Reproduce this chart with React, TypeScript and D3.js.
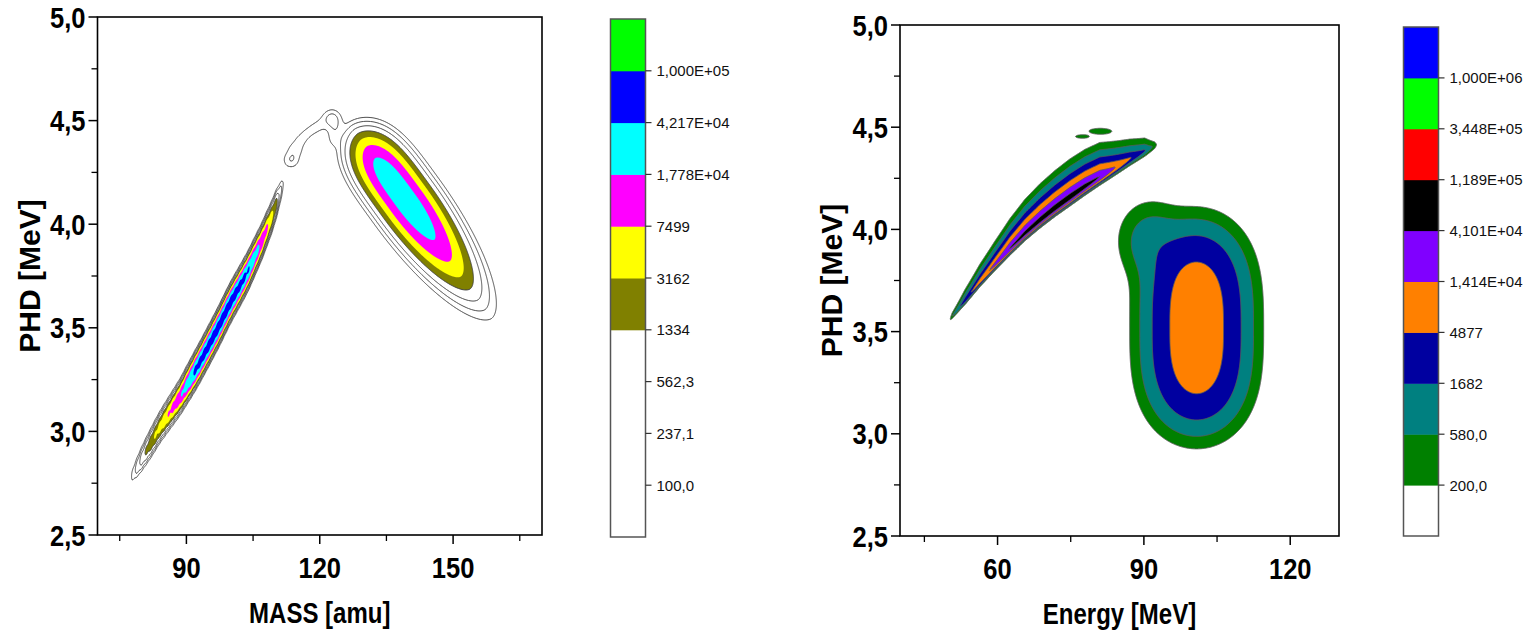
import React, { useMemo } from "react";
import * as d3 from "d3";

const W = 1526;
const H = 632;

// ---------------- Left panel: MASS vs PHD ----------------
const massLevels = [100, 237.1, 562.3, 1334, 3162, 7499, 17780, 42170, 100000];
const massBandColors = ["#ffffff", "#ffffff", "#ffffff", "#ffffff", "#808000", "#ffff00", "#ff00ff", "#00ffff", "#0000ff", "#00ff00"];
const massDomain = [70, 170];
const massMajorTicks = [90, 120, 150];
const massMinorTicks = [75, 105, 135, 165];
const phdDomain = [2.5, 5.0];
const phdMajorTicks = [2.5, 3.0, 3.5, 4.0, 4.5, 5.0];
const phdMinorTicks = [2.75, 3.25, 3.75, 4.25, 4.75];

// light fragment: one entry per integer mass bin
const lightMass = [78, 79, 80, 81, 82, 83, 84, 85, 86, 87, 88, 89, 90, 91, 92, 93, 94, 95, 96, 97, 98, 99, 100, 101, 102, 103, 104, 105, 106, 107, 108, 109, 110, 111, 112];
const lightPHD = [2.794, 2.831, 2.869, 2.907, 2.944, 2.982, 3.019, 3.052, 3.084, 3.116, 3.148, 3.182, 3.22, 3.257, 3.295, 3.333, 3.373, 3.413, 3.454, 3.495, 3.538, 3.582, 3.624, 3.663, 3.701, 3.74, 3.781, 3.827, 3.873, 3.92, 3.973, 4.025, 4.085, 4.146, 4.208];
const lightYield = [150, 400, 900, 1600, 2600, 3600, 4500, 6000, 8000, 10500, 14000, 19000, 28000, 40000, 54000, 60000, 64000, 67000, 69000, 71000, 72000, 71000, 69000, 66000, 61000, 55000, 46000, 34000, 24000, 16000, 10000, 5500, 2400, 400, 60];
const lightMassSpread = 0.38; // amu
const lightPHDSpread = 0.028; // MeV

// heavy fragment peak
const heavyPeak = { mass: 139.46, phd: 4.112, counts: 32000 };
const heavyTip = { mass: 131.39, phd: 4.35 };
const heavyTail = { mass: 147.67, phd: 3.87 };
const heavyHalfWidth = 0.072; // MeV
const heavyShape = { tip: 3.75, tail: 2.06, side: 1.8 };

// weak hook between the two groups
const hookMass = [113.56, 114.46, 115.58, 116.93, 118.51, 120.08, 121.66, 122.6, 123.2, 123.4, 123.4, 123.2];
const hookPHD = [4.31, 4.358, 4.402, 4.435, 4.459, 4.479, 4.503, 4.522, 4.512, 4.479, 4.44, 4.402];
const hookCounts = [230, 170, 110, 90, 90, 90, 95, 110, 140, 150, 110, 80];
const hookSpread = 0.025; // MeV

// ---------------- Right panel: Energy vs PHD ----------------
const energyLevels = [200, 580, 1682, 4877, 14140, 41010, 118900, 344800, 1000000];
const energyBandColors = ["#ffffff", "#008000", "#008080", "#0000a0", "#ff8000", "#8000ff", "#000000", "#ff0000", "#00ff00", "#0000ff"];
const energyDomain = [40, 130];
const energyMajorTicks = [60, 90, 120];
const energyMinorTicks = [45, 75, 105];

const streakEnergy = [49.9, 50.65, 53.31, 56.38, 59.46, 62.53, 65.6, 68.67, 71.74, 74.81, 77.89, 80.96, 84.03, 87.1, 90.17, 92.22, 93.6];
const streakPHD = [3.545, 3.576, 3.655, 3.748, 3.831, 3.909, 3.982, 4.046, 4.105, 4.159, 4.212, 4.261, 4.305, 4.349, 4.388, 4.413, 4.43];
const streakPeak = [60, 600, 3500, 9000, 20000, 45000, 65000, 75000, 80000, 78000, 65000, 42000, 15000, 5500, 1900, 400, 30];
const streakUp = [0.0117, 0.0127, 0.0157, 0.0186, 0.0205, 0.022, 0.0235, 0.0245, 0.025, 0.0255, 0.0255, 0.0255, 0.025, 0.0245, 0.024, 0.023, 0.023];
const streakDown = [0.0117, 0.0127, 0.0137, 0.0147, 0.0152, 0.0152, 0.0157, 0.0166, 0.0176, 0.0186, 0.0191, 0.0196, 0.0201, 0.0205, 0.0205, 0.0205, 0.0205];

const energyBlobs = [
  { energy: 100.82, phd: 3.518, sE: 7.04, sP: 0.379, pE: 2, pP: 3, counts: 9000 },
  { energy: 91.2, phd: 3.948, sE: 5.12, sP: 0.147, pE: 2, pP: 2, counts: 900 },
];

const islandEnergy = [77.27, 80.96];
const islandPHD = [4.4545, 4.481];
const islandCounts = [350, 350];
const islandSE = [1.16, 1.93];
const islandSP = [0.0069, 0.0115];

// ---------------- layout ----------------
const LEFT = { x0: 97.5, x1: 542, y0: 17, y1: 535 };
const RIGHT = { x0: 900, x1: 1339, y0: 25, y1: 536 };
const LEFT_BAR = { x: 610.5, y: 19, w: 35, h: 518 };
const RIGHT_BAR = { x: 1403.5, y: 27, w: 35, h: 509 };
const FONT = "'Liberation Sans', Arial, Helvetica, sans-serif";

function fmtLevel(v: number) {
  if (v >= 10000) {
    const e = Math.floor(Math.log10(v) + 1e-9);
    const m = v / Math.pow(10, e);
    return `${m.toFixed(3).replace(".", ",")}E+${String(e).padStart(2, "0")}`;
  }
  if (v >= 1000) return String(Math.round(v));
  return v.toFixed(1).replace(".", ",");
}

function grid(nx: number, ny: number, fn: (px: number, py: number) => number) {
  const values = new Float64Array(nx * ny);
  for (let j = 0; j < ny; j++) {
    for (let i = 0; i < nx; i++) {
      values[j * nx + i] = fn(i + 0.5, j + 0.5);
    }
  }
  return values;
}

function buildLeft() {
  const xs = d3.scaleLinear().domain(massDomain).range([LEFT.x0, LEFT.x1]);
  const ys = d3.scaleLinear().domain(phdDomain).range([LEFT.y1, LEFT.y0]);
  const nx = Math.round(LEFT.x1 - LEFT.x0);
  const ny = Math.round(LEFT.y1 - LEFT.y0);
  const pxPerMeV = ys(0) - ys(1);

  const cx = xs(heavyPeak.mass), cy = ys(heavyPeak.phd);
  const tx = xs(heavyTip.mass), ty = ys(heavyTip.phd);
  const lx = xs(heavyTail.mass), ly = ys(heavyTail.phd);
  const aMinus = Math.hypot(tx - cx, ty - cy);
  const aPlus = Math.hypot(lx - cx, ly - cy);
  const ul = Math.hypot(lx - tx, ly - ty);
  const ux = (lx - tx) / ul, uy = (ly - ty) / ul;
  const aSide = heavyHalfWidth * pxPerMeV;

  const hookPts = hookMass.map((m, i) => [xs(m), ys(hookPHD[i]), hookCounts[i]]);
  const hs = hookSpread * pxPerMeV;

  const n = lightMass.length;
  const slopes = lightPHD.map((_, i) => {
    const a = Math.max(0, i - 1), b = Math.min(n - 1, i + 1);
    return (lightPHD[b] - lightPHD[a]) / (lightMass[b] - lightMass[a]);
  });

  const fn = (gx: number, gy: number) => {
    const px = LEFT.x0 + gx, py = LEFT.y0 + gy;
    let v = 0;
    const dx = px - cx, dy = py - cy;
    const a = dx * ux + dy * uy;
    const b = -dx * uy + dy * ux;
    const ta = a < 0 ? Math.pow(-a / aMinus, heavyShape.tip) : Math.pow(a / aPlus, heavyShape.tail);
    const tb = Math.pow(Math.abs(b) / aSide, heavyShape.side);
    const e = ta + tb;
    if (e < 30) v += heavyPeak.counts * Math.exp(-e);
    for (const [hx, hy, hc] of hookPts) {
      const r2 = (px - hx) * (px - hx) + (py - hy) * (py - hy);
      if (r2 < 900) v += hc * Math.exp(-r2 / (2 * hs * hs));
    }
    const m = xs.invert(px), p = ys.invert(py);
    for (let i = 0; i < n; i++) {
      const dm = m - lightMass[i];
      if (dm > 2.5 || dm < -2.5) continue;
      const dp = p - (lightPHD[i] + slopes[i] * dm);
      if (dp > 0.3 || dp < -0.3) continue;
      v += lightYield[i] * Math.exp(-0.5 * (dm / lightMassSpread) ** 2 - 0.5 * (dp / lightPHDSpread) ** 2);
    }
    return v;
  };

  const values = grid(nx, ny, fn);
  const contours = d3.contours().size([nx, ny]).thresholds(massLevels)(values as any);
  return { xs, ys, contours };
}

function buildRight() {
  const xs = d3.scaleLinear().domain(energyDomain).range([RIGHT.x0, RIGHT.x1]);
  const ys = d3.scaleLinear().domain(phdDomain).range([RIGHT.y1, RIGHT.y0]);
  const nx = Math.round(RIGHT.x1 - RIGHT.x0);
  const ny = Math.round(RIGHT.y1 - RIGHT.y0);
  const n = streakEnergy.length;
  const logPeak = streakPeak.map((v) => Math.log(v));

  const fn = (gx: number, gy: number) => {
    const E = xs.invert(RIGHT.x0 + gx);
    const p = ys.invert(RIGHT.y0 + gy);
    let v = 0;
    for (const bl of energyBlobs) {
      const e = Math.pow(Math.abs(E - bl.energy) / bl.sE, bl.pE) + Math.pow(Math.abs(p - bl.phd) / bl.sP, bl.pP);
      if (e < 30) v += bl.counts * Math.exp(-e);
    }
    if (E > streakEnergy[0] && E < streakEnergy[n - 1]) {
      let k = 0;
      while (k < n - 2 && E > streakEnergy[k + 1]) k++;
      const t = (E - streakEnergy[k]) / (streakEnergy[k + 1] - streakEnergy[k]);
      const lerp = (arr: number[]) => arr[k] + t * (arr[k + 1] - arr[k]);
      const rp = lerp(streakPHD);
      const A = Math.exp(lerp(logPeak));
      const d = p - rp;
      const e = d > 0 ? Math.pow(d / lerp(streakUp), 0.9) : Math.pow(-d / lerp(streakDown), 2);
      if (e < 30) v += A * Math.exp(-e);
    }
    for (let i = 0; i < islandEnergy.length; i++) {
      const e = 0.5 * ((E - islandEnergy[i]) / islandSE[i]) ** 2 + 0.5 * ((p - islandPHD[i]) / islandSP[i]) ** 2;
      if (e < 30) v += islandCounts[i] * Math.exp(-e);
    }
    return v;
  };

  const values = grid(nx, ny, fn);
  const contours = d3.contours().size([nx, ny]).thresholds(energyLevels)(values as any);
  return { xs, ys, contours };
}

const geo = d3.geoPath();

function BoldText({ x, y, text, size, anchor, sx, rotate }: any) {
  const rot = rotate ? ` rotate(${rotate})` : "";
  return (
    <text
      transform={`translate(${x},${y})${rot} scale(${sx},1)`}
      textAnchor={anchor}
      fontSize={size}
      fontWeight="bold"
      fontFamily={FONT}
      fill="#000"
    >
      {text}
    </text>
  );
}

function Panel({ rect, data, colors, lineLevels, lineColor, majorX, minorX, xTitle }: any) {
  const { xs, ys, contours } = data;
  const tickFont = 29;
  const tickSX = 0.88;
  return (
    <g>
      <g transform={`translate(${rect.x0},${rect.y0})`}>
        {contours.map((c: any, k: number) => (
          <path key={`f${k}`} d={geo(c) || ""} fill={colors[k + 1]} stroke="none" />
        ))}
        {contours.map((c: any, k: number) =>
          lineLevels.includes(k) ? (
            <path key={`l${k}`} d={geo(c) || ""} fill="none" stroke={lineColor} strokeWidth={0.9} strokeLinejoin="round" />
          ) : null
        )}
      </g>
      <rect x={rect.x0} y={rect.y0} width={rect.x1 - rect.x0} height={rect.y1 - rect.y0} fill="none" stroke="#000" strokeWidth={1.6} />
      {majorX.map((t: number) => (
        <line key={`mx${t}`} x1={xs(t)} x2={xs(t)} y1={rect.y1} y2={rect.y1 + 9} stroke="#000" strokeWidth={1.5} />
      ))}
      {minorX.map((t: number) => (
        <line key={`nx${t}`} x1={xs(t)} x2={xs(t)} y1={rect.y1} y2={rect.y1 + 6} stroke="#000" strokeWidth={1.3} />
      ))}
      {phdMajorTicks.map((t: number) => (
        <line key={`my${t}`} x1={rect.x0 - 9} x2={rect.x0} y1={ys(t)} y2={ys(t)} stroke="#000" strokeWidth={1.5} />
      ))}
      {phdMinorTicks.map((t: number) => (
        <line key={`ny${t}`} x1={rect.x0 - 6} x2={rect.x0} y1={ys(t)} y2={ys(t)} stroke="#000" strokeWidth={1.3} />
      ))}
      {majorX.map((t: number) => (
        <BoldText key={`lx${t}`} x={xs(t)} y={rect.y1 + 43} text={String(t)} size={tickFont} anchor="middle" sx={tickSX} />
      ))}
      {phdMajorTicks.map((t: number) => (
        <BoldText key={`ly${t}`} x={rect.x0 - 12} y={ys(t) + 10.5} text={t.toFixed(1).replace(".", ",")} size={tickFont} anchor="end" sx={tickSX} />
      ))}
      <BoldText x={(rect.x0 + rect.x1) / 2} y={rect.y1 + 88} text={xTitle} size={30} anchor="middle" sx={0.8} />
      <BoldText x={rect.x0 - 58} y={(rect.y0 + rect.y1) / 2} text="PHD [MeV]" size={30} anchor="middle" sx={1} rotate={-90} />
    </g>
  );
}

function ColorBar({ bar, levels, colors }: any) {
  const nb = colors.length;
  const bh = bar.h / nb;
  return (
    <g>
      {colors.map((c: string, k: number) => (
        <rect key={k} x={bar.x} y={bar.y + (nb - 1 - k) * bh} width={bar.w} height={bh + 0.5} fill={c} />
      ))}
      <rect x={bar.x} y={bar.y} width={bar.w} height={bar.h} fill="none" stroke="#555" strokeWidth={1.5} />
      {levels.map((v: number, k: number) => {
        const y = bar.y + (nb - 1 - k) * bh;
        return (
          <g key={`t${k}`}>
            <line x1={bar.x + bar.w} x2={bar.x + bar.w + 6} y1={y} y2={y} stroke="#333" strokeWidth={1.2} />
            <text x={bar.x + bar.w + 11} y={y + 5.5} fontSize={15} fontFamily={FONT} fill="#111">
              {fmtLevel(v)}
            </text>
          </g>
        );
      })}
    </g>
  );
}

export default function App() {
  const left = useMemo(() => buildLeft(), []);
  const right = useMemo(() => buildRight(), []);
  return (
    <svg width={W} height={H} style={{ position: "absolute", left: 0, top: 0, display: "block" }}>
      <rect x={0} y={0} width={W} height={H} fill="#ffffff" />
      <Panel
        rect={LEFT}
        data={left}
        colors={massBandColors}
        lineLevels={[0, 1, 2, 3]}
        lineColor="#3c3c3c"
        majorX={massMajorTicks}
        minorX={massMinorTicks}
        xTitle="MASS [amu]"
      />
      <ColorBar bar={LEFT_BAR} levels={massLevels} colors={massBandColors} />
      <Panel
        rect={RIGHT}
        data={right}
        colors={energyBandColors}
        lineLevels={[0, 1, 2, 3, 4, 5, 6, 7, 8]}
        lineColor="#5a5a5a"
        majorX={energyMajorTicks}
        minorX={energyMinorTicks}
        xTitle="Energy [MeV]"
      />
      <ColorBar bar={RIGHT_BAR} levels={energyLevels} colors={energyBandColors} />
    </svg>
  );
}
